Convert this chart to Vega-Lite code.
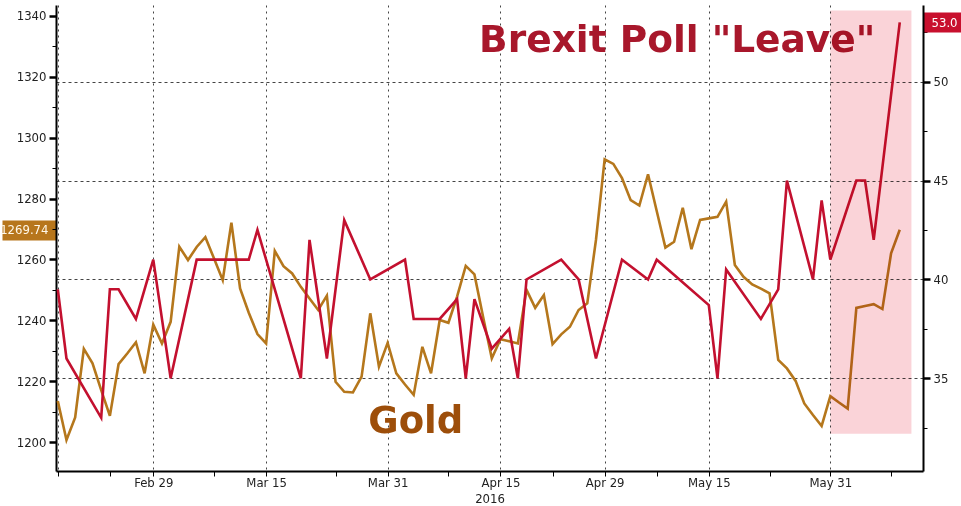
{
  "$schema": "https://vega.github.io/schema/vega-lite/v6.json",
  "width": 867,
  "height": 466,
  "autosize": {"type": "none"},
  "padding": {"left": 56, "top": 5, "right": 38, "bottom": 35},
  "background": "white",
  "config": {
    "view": {"stroke": null},
    "axis": {
      "labelFont": "DejaVu Sans Condensed, Liberation Sans",
      "titleFont": "DejaVu Sans Condensed, Liberation Sans",
      "labelFontSize": 13,
      "domainColor": "black"
    }
  },
  "datasets": {
    "gold": [
      {"date": "2016-02-16", "price": 1213.5},
      {"date": "2016-02-17", "price": 1200.7},
      {"date": "2016-02-18", "price": 1208.1},
      {"date": "2016-02-19", "price": 1230.6},
      {"date": "2016-02-21", "price": 1225.9},
      {"date": "2016-02-22", "price": 1217.1},
      {"date": "2016-02-23", "price": 1208.6},
      {"date": "2016-02-24", "price": 1225.6},
      {"date": "2016-02-25", "price": 1229.1},
      {"date": "2016-02-26", "price": 1232.8},
      {"date": "2016-02-28", "price": 1222.6},
      {"date": "2016-02-29", "price": 1238.6},
      {"date": "2016-03-01", "price": 1232.4},
      {"date": "2016-03-02", "price": 1239.5},
      {"date": "2016-03-03", "price": 1264.2},
      {"date": "2016-03-04", "price": 1259.8},
      {"date": "2016-03-06", "price": 1264.1},
      {"date": "2016-03-07", "price": 1267.3},
      {"date": "2016-03-08", "price": 1260.3},
      {"date": "2016-03-09", "price": 1253.2},
      {"date": "2016-03-10", "price": 1272.1},
      {"date": "2016-03-11", "price": 1250.5},
      {"date": "2016-03-13", "price": 1242.5},
      {"date": "2016-03-14", "price": 1235.5},
      {"date": "2016-03-15", "price": 1232.4},
      {"date": "2016-03-16", "price": 1262.8},
      {"date": "2016-03-17", "price": 1257.8},
      {"date": "2016-03-18", "price": 1255.4},
      {"date": "2016-03-20", "price": 1251.0},
      {"date": "2016-03-21", "price": 1247.2},
      {"date": "2016-03-22", "price": 1243.4},
      {"date": "2016-03-23", "price": 1248.1},
      {"date": "2016-03-24", "price": 1219.8},
      {"date": "2016-03-25", "price": 1216.5},
      {"date": "2016-03-27", "price": 1216.3},
      {"date": "2016-03-28", "price": 1221.5},
      {"date": "2016-03-29", "price": 1242.3},
      {"date": "2016-03-30", "price": 1224.8},
      {"date": "2016-03-31", "price": 1232.6},
      {"date": "2016-04-01", "price": 1222.6},
      {"date": "2016-04-03", "price": 1218.9},
      {"date": "2016-04-04", "price": 1215.5},
      {"date": "2016-04-05", "price": 1231.3},
      {"date": "2016-04-06", "price": 1222.6},
      {"date": "2016-04-07", "price": 1240.1},
      {"date": "2016-04-08", "price": 1239.2},
      {"date": "2016-04-10", "price": 1247.8},
      {"date": "2016-04-11", "price": 1257.9},
      {"date": "2016-04-12", "price": 1255.1},
      {"date": "2016-04-13", "price": 1241.1},
      {"date": "2016-04-14", "price": 1227.5},
      {"date": "2016-04-15", "price": 1233.8},
      {"date": "2016-04-17", "price": 1233.1},
      {"date": "2016-04-18", "price": 1232.4},
      {"date": "2016-04-19", "price": 1250.0},
      {"date": "2016-04-20", "price": 1244.1},
      {"date": "2016-04-21", "price": 1248.3},
      {"date": "2016-04-22", "price": 1232.2},
      {"date": "2016-04-24", "price": 1235.4},
      {"date": "2016-04-25", "price": 1237.9},
      {"date": "2016-04-26", "price": 1243.4},
      {"date": "2016-04-27", "price": 1245.6},
      {"date": "2016-04-28", "price": 1266.4},
      {"date": "2016-04-29", "price": 1292.9},
      {"date": "2016-05-01", "price": 1291.4},
      {"date": "2016-05-02", "price": 1286.7},
      {"date": "2016-05-03", "price": 1279.5},
      {"date": "2016-05-04", "price": 1277.7},
      {"date": "2016-05-05", "price": 1288.0},
      {"date": "2016-05-06", "price": 1275.9},
      {"date": "2016-05-08", "price": 1263.9},
      {"date": "2016-05-09", "price": 1265.8},
      {"date": "2016-05-10", "price": 1277.0},
      {"date": "2016-05-11", "price": 1263.4},
      {"date": "2016-05-12", "price": 1273.0},
      {"date": "2016-05-13", "price": 1273.5},
      {"date": "2016-05-16", "price": 1274.0},
      {"date": "2016-05-17", "price": 1279.0},
      {"date": "2016-05-18", "price": 1258.2},
      {"date": "2016-05-19", "price": 1254.3},
      {"date": "2016-05-20", "price": 1251.8},
      {"date": "2016-05-22", "price": 1250.4},
      {"date": "2016-05-23", "price": 1248.9},
      {"date": "2016-05-24", "price": 1227.0},
      {"date": "2016-05-25", "price": 1224.2},
      {"date": "2016-05-26", "price": 1220.1},
      {"date": "2016-05-27", "price": 1212.7},
      {"date": "2016-05-29", "price": 1208.9},
      {"date": "2016-05-30", "price": 1205.3},
      {"date": "2016-05-31", "price": 1215.1},
      {"date": "2016-06-01", "price": 1213.0},
      {"date": "2016-06-02", "price": 1211.0},
      {"date": "2016-06-03", "price": 1244.1},
      {"date": "2016-06-05", "price": 1244.7},
      {"date": "2016-06-06", "price": 1245.3},
      {"date": "2016-06-07", "price": 1243.7},
      {"date": "2016-06-08", "price": 1262.0},
      {"date": "2016-06-09", "price": 1269.74}
    ],
    "poll": [
      {"date": "2016-02-16", "leave": 39.5},
      {"date": "2016-02-17", "leave": 36},
      {"date": "2016-02-22", "leave": 33},
      {"date": "2016-02-23", "leave": 39.5},
      {"date": "2016-02-24", "leave": 39.5},
      {"date": "2016-02-26", "leave": 38},
      {"date": "2016-02-29", "leave": 41},
      {"date": "2016-03-02", "leave": 35},
      {"date": "2016-03-06", "leave": 41},
      {"date": "2016-03-13", "leave": 41},
      {"date": "2016-03-14", "leave": 42.5},
      {"date": "2016-03-20", "leave": 35},
      {"date": "2016-03-21", "leave": 42},
      {"date": "2016-03-23", "leave": 36},
      {"date": "2016-03-25", "leave": 43},
      {"date": "2016-03-29", "leave": 40},
      {"date": "2016-04-03", "leave": 41},
      {"date": "2016-04-04", "leave": 38},
      {"date": "2016-04-07", "leave": 38},
      {"date": "2016-04-10", "leave": 39},
      {"date": "2016-04-11", "leave": 35},
      {"date": "2016-04-12", "leave": 39},
      {"date": "2016-04-14", "leave": 36.5},
      {"date": "2016-04-17", "leave": 37.5},
      {"date": "2016-04-18", "leave": 35},
      {"date": "2016-04-19", "leave": 40},
      {"date": "2016-04-24", "leave": 41},
      {"date": "2016-04-26", "leave": 40},
      {"date": "2016-04-28", "leave": 36},
      {"date": "2016-05-02", "leave": 41},
      {"date": "2016-05-05", "leave": 40},
      {"date": "2016-05-06", "leave": 41},
      {"date": "2016-05-13", "leave": 38.7},
      {"date": "2016-05-16", "leave": 35},
      {"date": "2016-05-17", "leave": 40.5},
      {"date": "2016-05-22", "leave": 38},
      {"date": "2016-05-24", "leave": 39.5},
      {"date": "2016-05-25", "leave": 45},
      {"date": "2016-05-29", "leave": 40},
      {"date": "2016-05-30", "leave": 44},
      {"date": "2016-05-31", "leave": 41},
      {"date": "2016-06-03", "leave": 45},
      {"date": "2016-06-05", "leave": 45},
      {"date": "2016-06-06", "leave": 42},
      {"date": "2016-06-09", "leave": 53.0}
    ],
    "goldNote": [{"date": "2016-03-29", "value": 1203, "label": "Gold"}],
    "pollNote": [{"date": "2016-04-13", "value": 51.5, "label": "Brexit Poll \"Leave\""}],
    "shade": [{"start": "2016-05-31", "end": "2016-06-10", "lo": 32.2, "hi": 53.6}]
  },
  "layer": [
    {
      "data": {"name": "gold"},
      "layer": [
        {
          "mark": {"type": "line", "color": "#b5771c", "strokeWidth": 2.6},
          "encoding": {
            "x": {
              "field": "date",
              "type": "ordinal",
              "title": "2016",
              "scale": {
                "type": "point",
                "padding": 0.9425,
                "align": 0.11,
                "domain": ["2016-02-16","2016-02-17","2016-02-18","2016-02-19","2016-02-21","2016-02-22","2016-02-23","2016-02-24","2016-02-25","2016-02-26","2016-02-28","2016-02-29","2016-03-01","2016-03-02","2016-03-03","2016-03-04","2016-03-06","2016-03-07","2016-03-08","2016-03-09","2016-03-10","2016-03-11","2016-03-13","2016-03-14","2016-03-15","2016-03-16","2016-03-17","2016-03-18","2016-03-20","2016-03-21","2016-03-22","2016-03-23","2016-03-24","2016-03-25","2016-03-27","2016-03-28","2016-03-29","2016-03-30","2016-03-31","2016-04-01","2016-04-03","2016-04-04","2016-04-05","2016-04-06","2016-04-07","2016-04-08","2016-04-10","2016-04-11","2016-04-12","2016-04-13","2016-04-14","2016-04-15","2016-04-17","2016-04-18","2016-04-19","2016-04-20","2016-04-21","2016-04-22","2016-04-24","2016-04-25","2016-04-26","2016-04-27","2016-04-28","2016-04-29","2016-05-01","2016-05-02","2016-05-03","2016-05-04","2016-05-05","2016-05-06","2016-05-08","2016-05-09","2016-05-10","2016-05-11","2016-05-12","2016-05-13","2016-05-16","2016-05-17","2016-05-18","2016-05-19","2016-05-20","2016-05-22","2016-05-23","2016-05-24","2016-05-25","2016-05-26","2016-05-27","2016-05-29","2016-05-30","2016-05-31","2016-06-01","2016-06-02","2016-06-03","2016-06-05","2016-06-06","2016-06-07","2016-06-08","2016-06-09","2016-06-10"]
              },
              "axis": {
                "values": ["2016-02-16","2016-02-23","2016-02-29","2016-03-08","2016-03-15","2016-03-24","2016-03-31","2016-04-08","2016-04-15","2016-04-22","2016-04-29","2016-05-06","2016-05-13","2016-05-23","2016-05-31","2016-06-08"],
                "labelExpr": "datum.value == '2016-02-29' ? 'Feb 29' : datum.value == '2016-03-15' ? 'Mar 15' : datum.value == '2016-03-31' ? 'Mar 31' : datum.value == '2016-04-15' ? 'Apr 15' : datum.value == '2016-04-29' ? 'Apr 29' : datum.value == '2016-05-13' ? 'May 15' : datum.value == '2016-05-31' ? 'May 31' : ''",
                "labelAngle": 0,
                "labelPadding": 0,
                "labelColor": "#222",
                "labelOverlap": false,
                "labelBound": false,
                "tickSize": 5,
                "tickColor": "black",
                "tickWidth": 1,
                "domainWidth": 2,
                "grid": true,
                "gridColor": "#444",
                "gridDash": [2, 4],
                "gridWidth": 1,
                "gridOpacity": {"condition": {"test": "indexof(['2016-02-23','2016-03-08','2016-03-24','2016-04-08','2016-04-22','2016-05-06','2016-05-23','2016-06-08'], datum.value) >= 0", "value": 0}, "value": 1},
                "titleFontSize": 13,
                "titleFontWeight": "normal",
                "titleColor": "#222",
                "titlePadding": 3
              }
            },
            "y": {
              "field": "price",
              "type": "quantitative",
              "title": null,
              "scale": {"domain": [1190.5, 1343.6], "nice": false, "zero": false},
              "axis": {
                "orient": "left",
                "tickCount": 100,
                "values": [1200, 1210, 1220, 1230, 1240, 1250, 1260, 1270, 1280, 1290, 1300, 1310, 1320, 1330, 1340, 1269.74],
                "labelExpr": "datum.value == 1269.74 ? '1269.74' : (datum.value % 20 == 0 ? format(datum.value, 'd') : '')",
                "labelOverlap": false,
                "labelBound": false,
                "grid": false,
                "domainWidth": 2,
                "tickColor": {"condition": {"test": "datum.value == 1269.74", "value": "#b7761c"}, "value": "black"},
                "tickWidth": {"condition": [{"test": "datum.value == 1269.74", "value": 20}, {"test": "datum.value % 20 == 0", "value": 2.5}], "value": 1},
                "tickSize": {"condition": [{"test": "datum.value == 1269.74", "value": 54}, {"test": "datum.value % 20 == 0", "value": 7}], "value": 4},
                "labelPadding": {"condition": {"test": "datum.value == 1269.74", "value": -46}, "value": 3},
                "labelColor": {"condition": {"test": "datum.value == 1269.74", "value": "#fff8e8"}, "value": "#222"}
              }
            }
          }
        },
        {
          "data": {"name": "goldNote"},
          "mark": {"type": "text", "font": "DejaVu Sans", "fontSize": 37, "fontWeight": "bold", "color": "#9d4e0a", "align": "left", "baseline": "alphabetic", "dx": -2},
          "encoding": {
            "x": {"field": "date", "type": "ordinal", "title": "2016"},
            "y": {"field": "value", "type": "quantitative", "title": null},
            "text": {"field": "label"}
          }
        }
      ]
    },
    {
      "data": {"name": "poll"},
      "layer": [
        {
          "mark": {"type": "line", "color": "#c3102f", "strokeWidth": 2.6},
          "encoding": {
            "x": {"field": "date", "type": "ordinal", "title": "2016"},
            "y": {
              "field": "leave",
              "type": "quantitative",
              "title": null,
              "scale": {"domain": [30.31, 53.88], "nice": false, "zero": false},
              "axis": {
                "orient": "right",
                "tickCount": 100,
                "values": [32.5, 35, 37.5, 40, 42.5, 45, 47.5, 50, 52.5, 53],
                "labelExpr": "datum.value == 53 ? '53.0' : (datum.value % 5 == 0 ? format(datum.value, 'd') : '')",
                "labelOverlap": false,
                "labelBound": false,
                "domainWidth": 2,
                "grid": true,
                "gridColor": "#444",
                "gridDash": [3, 3],
                "gridWidth": 1,
                "gridOpacity": {"condition": {"test": "datum.value % 5 == 0", "value": 1}, "value": 0},
                "tickColor": {"condition": {"test": "datum.value == 53", "value": "#c8102e"}, "value": "black"},
                "tickWidth": {"condition": [{"test": "datum.value == 53", "value": 20}, {"test": "datum.value % 5 == 0", "value": 2.5}], "value": 1},
                "tickSize": {"condition": [{"test": "datum.value == 53", "value": 38}, {"test": "datum.value % 5 == 0", "value": 7}], "value": 4},
                "labelPadding": {"condition": {"test": "datum.value == 53", "value": -30}, "value": 3},
                "labelColor": {"condition": {"test": "datum.value == 53", "value": "white"}, "value": "#222"}
              }
            }
          }
        },
        {
          "data": {"name": "pollNote"},
          "mark": {"type": "text", "font": "DejaVu Sans", "fontSize": 37.5, "fontWeight": "bold", "color": "#a8172b", "align": "left", "baseline": "alphabetic", "dx": -4},
          "encoding": {
            "x": {"field": "date", "type": "ordinal", "title": "2016"},
            "y": {"field": "value", "type": "quantitative", "title": null},
            "text": {"field": "label"}
          }
        },
        {
          "data": {"name": "shade"},
          "mark": {"type": "rect", "color": "#fad3d8", "blend": "multiply", "x2Offset": 3},
          "encoding": {
            "x": {"field": "start", "type": "ordinal", "title": "2016"},
            "x2": {"field": "end"},
            "y": {"field": "lo", "type": "quantitative", "title": null},
            "y2": {"field": "hi"}
          }
        }
      ]
    }
  ],
  "resolve": {"scale": {"y": "independent"}}
}
